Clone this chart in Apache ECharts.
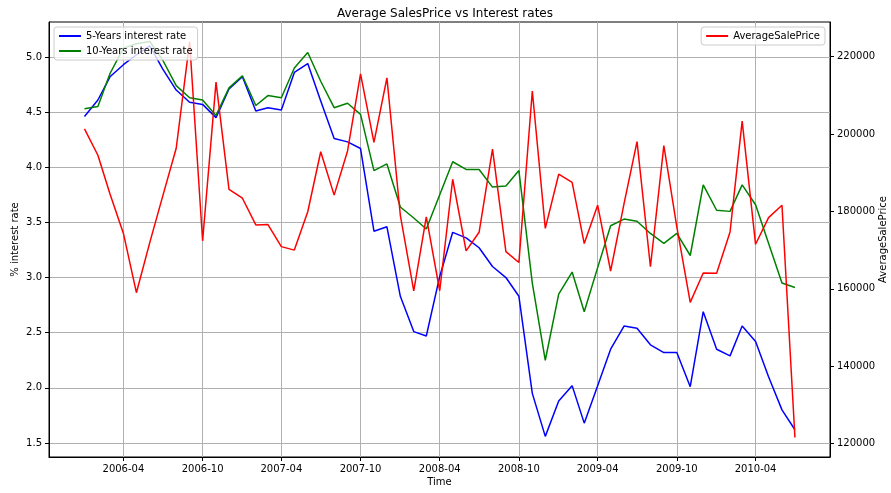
<!DOCTYPE html>
<html>
<head>
<meta charset="utf-8">
<script src="https://cdn.jsdelivr.net/npm/echarts@6/dist/echarts.min.js"></script>
<style>html,body{margin:0;padding:0;background:#fff;}#c{width:891px;height:493px;}</style>
</head>
<body>
<div id="c"></div>
<script>
var months = ['2006-01','2006-02','2006-03','2006-04','2006-05','2006-06','2006-07','2006-08','2006-09','2006-10','2006-11','2006-12',
'2007-01','2007-02','2007-03','2007-04','2007-05','2007-06','2007-07','2007-08','2007-09','2007-10','2007-11','2007-12',
'2008-01','2008-02','2008-03','2008-04','2008-05','2008-06','2008-07','2008-08','2008-09','2008-10','2008-11','2008-12',
'2009-01','2009-02','2009-03','2009-04','2009-05','2009-06','2009-07','2009-08','2009-09','2009-10','2009-11','2009-12',
'2010-01','2010-02','2010-03','2010-04','2010-05','2010-06','2010-07'];
var rate5 = [4.46,4.61,4.82,4.93,5.02,5.10,4.89,4.70,4.59,4.57,4.45,4.71,
4.82,4.51,4.54,4.52,4.86,4.94,4.60,4.26,4.23,4.17,3.42,3.46,
2.83,2.51,2.47,3.01,3.41,3.36,3.27,3.10,3.00,2.83,1.95,1.56,
1.88,2.02,1.68,2.02,2.35,2.56,2.54,2.39,2.32,2.32,2.01,2.69,
2.35,2.29,2.56,2.42,2.10,1.80,1.62];
var rate10 = [4.53,4.55,4.85,5.08,5.12,5.14,4.97,4.74,4.63,4.61,4.47,4.72,
4.83,4.56,4.65,4.63,4.90,5.04,4.78,4.54,4.58,4.48,3.97,4.03,
3.64,3.54,3.44,3.75,4.05,3.98,3.98,3.82,3.83,3.97,2.95,2.25,
2.85,3.05,2.69,3.09,3.47,3.53,3.51,3.40,3.31,3.40,3.20,3.84,
3.61,3.60,3.84,3.66,3.31,2.95,2.91];
var salePrice = [201300,194500,184500,174300,159000,172000,184000,196300,223800,172400,213400,185700,
183400,176500,176600,170900,170000,179900,195400,184200,195600,215500,197800,214500,
179000,159500,178600,159500,188300,169800,174600,196100,169600,166800,211100,175600,
189600,187500,171700,181600,164600,182000,198000,165700,197000,176000,156500,164100,
164000,174700,203300,171500,178400,181600,121600];
var xTickLabels = ['2006-04','2006-10','2007-04','2007-10','2008-04','2008-10','2009-04','2009-10','2010-04'];
var leftTicks = [1.5,2.0,2.5,3.0,3.5,4.0,4.5,5.0];
var rightTicks = [120000,140000,160000,180000,200000,220000];

function ts(s){ var p = s.split('-'); return Date.UTC(+p[0], +p[1]-1, p[2] ? +p[2] : 1); }
function pairs(vals){ return months.map(function(m,i){ return [ts(m), vals[i]]; }); }
var xTicks = xTickLabels.map(ts);
function fmtMonth(v){ var d = new Date(v); var m = d.getUTCMonth()+1; return d.getUTCFullYear() + '-' + (m<10?'0':'') + m; }

var FONT = 'DejaVu Sans';
var chart = echarts.init(document.getElementById('c'), null, {renderer:'canvas'});
var legendCommon = {
  icon: 'rect', itemWidth: 22, itemHeight: 2, itemGap: 3,
  padding: [3,5,3,5], borderColor: '#cccccc', borderWidth: 1, borderRadius: 3,
  backgroundColor: 'rgba(255,255,255,0.8)',
  textStyle: {fontFamily: FONT, fontSize: 10, color: '#000', lineHeight: 12}
};
chart.setOption({
  animation: false,
  backgroundColor: '#fff',
  title: {text: 'Average SalesPrice vs Interest rates', left: 332, top: 3,
    textStyle: {fontFamily: FONT, fontSize: 12, fontWeight: 'normal', color: '#000'}},
  legend: [
    Object.assign({}, legendCommon, {data: ['5-Years interest rate','10-Years interest rate'], orient: 'vertical', left: 54, top: 27}),
    Object.assign({}, legendCommon, {data: ['AverageSalePrice'], orient: 'vertical', right: 66, top: 27})
  ],
  grid: {left: 49, right: 61, top: 22, bottom: 36, containLabel: false, outerBoundsMode: 'none',
    show: true, borderColor: '#000', borderWidth: 1, backgroundColor: 'transparent'},
  xAxis: {
    type: 'value', min: ts('2005-10-11'), max: ts('2010-09-20'),
    name: 'Time', nameLocation: 'middle', nameGap: 20, nameMoveOverlap: false,
    nameTextStyle: {fontFamily: FONT, fontSize: 10, color: '#000'},
    axisLine: {lineStyle: {color: '#000', width: 1}},
    axisTick: {show: true, length: 4, lineStyle: {color: '#000'}, customValues: xTicks},
    axisLabel: {customValues: xTicks, margin: 7, fontFamily: FONT, fontSize: 10, color: '#000', formatter: fmtMonth},
    splitLine: {show: true, lineStyle: {color: '#b0b0b0', width: 1}}
  },
  yAxis: [
    {type: 'value', min: 1.373, max: 5.317, position: 'left',
      name: '% interest rate', nameLocation: 'middle', nameGap: 29, nameMoveOverlap: false,
      nameTextStyle: {fontFamily: FONT, fontSize: 10, color: '#000'},
      axisLine: {show: true, lineStyle: {color: '#000', width: 1}},
      axisTick: {show: true, length: 4, lineStyle: {color: '#000'}, customValues: leftTicks},
      axisLabel: {customValues: leftTicks, margin: 7, fontFamily: FONT, fontSize: 10, color: '#000',
        formatter: function(v){ return (+v).toFixed(1); }},
      splitLine: {show: true, lineStyle: {color: '#b0b0b0', width: 1}}
    },
    {type: 'value', min: 116563, max: 228915, position: 'right',
      name: 'AverageSalePrice', nameLocation: 'middle', nameGap: 48, nameMoveOverlap: false,
      nameTextStyle: {fontFamily: FONT, fontSize: 10, color: '#000'},
      axisLine: {show: true, lineStyle: {color: '#000', width: 1}},
      axisTick: {show: true, length: 4, lineStyle: {color: '#000'}, customValues: rightTicks},
      axisLabel: {customValues: rightTicks, margin: 7, fontFamily: FONT, fontSize: 10, color: '#000',
        formatter: function(v){ return String(Math.round(v)); }},
      splitLine: {show: false}
    }
  ],
  series: [
    {name: '5-Years interest rate', type: 'line', yAxisIndex: 0, data: pairs(rate5), symbol: 'none',
      color: '#0000ff', lineStyle: {color: '#0000ff', width: 1.5}},
    {name: '10-Years interest rate', type: 'line', yAxisIndex: 0, data: pairs(rate10), symbol: 'none',
      color: '#008000', lineStyle: {color: '#008000', width: 1.5}},
    {name: 'AverageSalePrice', type: 'line', yAxisIndex: 1, data: pairs(salePrice), symbol: 'none',
      color: '#ff0000', lineStyle: {color: '#ff0000', width: 1.5}}
  ]
});
</script>
</body>
</html>
